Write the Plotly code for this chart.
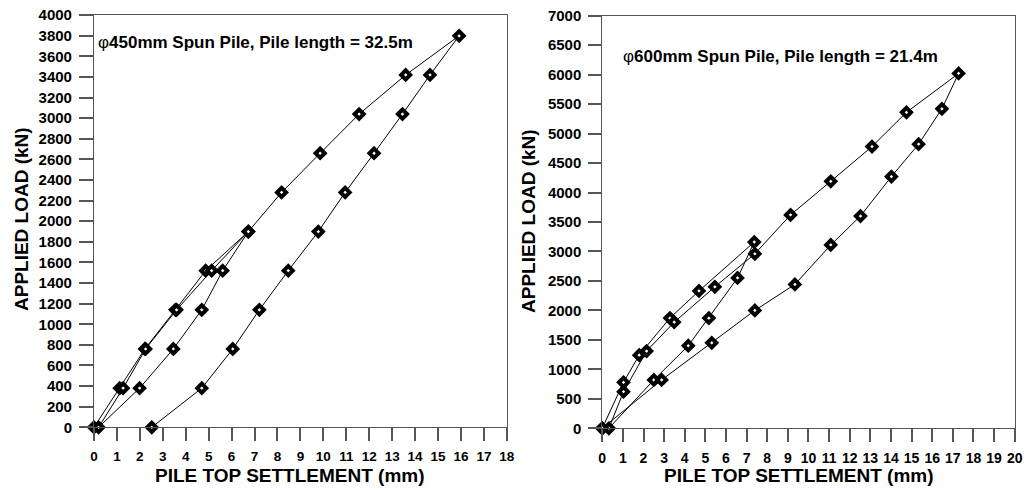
import plotly.graph_objects as go

# Left: phi450mm spun pile, pile length 32.5 m (load-settlement path in test order)
settle_450 = [0, 1.12, 2.22, 3.55, 4.87, 6.73, 5.61, 4.70, 3.46, 1.99, 0.20,
              1.27, 2.25, 3.60, 5.13, 6.73, 8.18, 9.86, 11.56, 13.59, 15.92,
              14.65, 13.45, 12.21, 10.95, 9.78, 8.47, 7.21, 6.05, 4.70, 2.52]
load_450 = [0, 380, 760, 1140, 1520, 1900, 1520, 1140, 760, 380, 0,
            380, 760, 1140, 1520, 1900, 2280, 2660, 3040, 3420, 3800,
            3420, 3040, 2660, 2280, 1900, 1520, 1140, 760, 380, 0]

# Right: phi600mm spun pile, pile length 21.4 m
settle_600 = [0, 1.03, 1.79, 3.28, 4.69, 7.37, 6.56, 5.17, 4.17, 2.50, 0.32,
              1.03, 2.15, 3.49, 5.46, 7.40, 9.13, 11.08, 13.08, 14.75, 17.28,
              16.47, 15.34, 14.02, 12.52, 11.08, 9.34, 7.40, 5.31, 2.88, 0]
load_600 = [0, 780, 1240, 1870, 2330, 3160, 2550, 1870, 1400, 820, 0,
            620, 1310, 1800, 2400, 2960, 3620, 4190, 4780, 5360, 6020,
            5420, 4820, 4270, 3600, 3110, 2440, 2000, 1450, 820, 0]

x_ticks_left = list(range(0, 19))
y_ticks_left = list(range(0, 4001, 200))
x_ticks_right = list(range(0, 21))
y_ticks_right = list(range(0, 7001, 500))

FONT = "Arial, Liberation Sans, sans-serif"
marker = dict(symbol="diamond", size=7, color="white", line=dict(color="black", width=4))
line = dict(color="black", width=1)

fig = go.Figure()
fig.add_trace(go.Scatter(x=settle_450, y=load_450, mode="lines+markers",
                         marker=marker, line=line, xaxis="x", yaxis="y",
                         cliponaxis=False, showlegend=False))
fig.add_trace(go.Scatter(x=settle_600, y=load_600, mode="lines+markers",
                         marker=marker, line=line, xaxis="x2", yaxis="y2",
                         cliponaxis=False, showlegend=False))

ax_common = dict(showline=True, mirror=True, linecolor="#555", linewidth=1,
                 ticks="outside", tickcolor="#555", tickwidth=1.5,
                 showgrid=False, zeroline=False, fixedrange=True, automargin=False)

def tf(size):
    return dict(family=FONT, size=size, weight="bold", color="black")

fig.update_layout(
    width=1026, height=490,
    margin=dict(l=0, r=0, t=0, b=0, autoexpand=False),
    paper_bgcolor="white", plot_bgcolor="white",
    xaxis=dict(domain=[0.0916, 0.494], range=[0, 18], tickvals=x_ticks_left,
               ticklen=13, tickfont=tf(13.5), ticklabelstandoff=4,
               anchor="y", **ax_common),
    yaxis=dict(domain=[0.128, 0.969], range=[0, 4000], tickvals=y_ticks_left,
               ticklen=14, tickfont=tf(15), ticklabelstandoff=4,
               anchor="x", **ax_common),
    xaxis2=dict(domain=[0.587, 0.989], range=[0, 20], tickvals=x_ticks_right,
                ticklen=13, tickfont=tf(14), ticklabelstandoff=4,
                anchor="y2", **ax_common),
    yaxis2=dict(domain=[0.126, 0.968], range=[0, 7000], tickvals=y_ticks_right,
                ticklen=13, tickfont=tf(15), ticklabelstandoff=4,
                anchor="x2", **ax_common),
)

def ann(text, x, y, size, angle=0, xanchor="center"):
    fig.add_annotation(text=text, x=x, y=y, xref="paper", yref="paper",
                       showarrow=False, textangle=angle, xanchor=xanchor, yanchor="middle",
                       font=dict(family=FONT, size=size, color="black"))

ann("<b>PILE TOP SETTLEMENT (mm)</b>", 290 / 1026, 1 - 475 / 490, 19)
ann("<b>PILE TOP SETTLEMENT (mm)</b>", 799 / 1026, 1 - 475 / 490, 19)
ann("<b>APPLIED LOAD (kN)</b>", 21 / 1026, 1 - 219 / 490, 19, angle=-90)
ann("<b>APPLIED LOAD (kN)</b>", 528 / 1026, 1 - 221 / 490, 19, angle=-90)
ann("φ<b>450mm Spun Pile, Pile length = 32.5m</b>", 96 / 1026, 1 - 42 / 490, 17, xanchor="left")
ann("φ<b>600mm Spun Pile, Pile length = 21.4m</b>", 621 / 1026, 1 - 56 / 490, 17, xanchor="left")

fig.write_html("out.html")
